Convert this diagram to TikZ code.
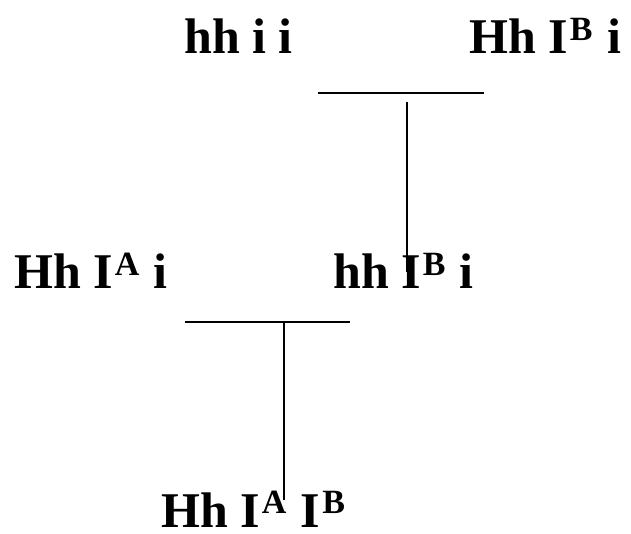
\documentclass[tikz,border=0pt]{standalone}
\usepackage{fontspec}
\setmainfont{Liberation Serif}
\newcommand{\allele}[1]{\kern2pt\raisebox{0.27em}{\fontsize{34}{34}\selectfont #1}\kern2pt\relax}

\begin{document}
\begin{tikzpicture}[x=1pt,y=-1pt,
  geno/.style={inner sep=0pt, anchor=base west, font=\fontsize{50}{50}\selectfont\bfseries},
  bar/.style={line width=2pt}]
\useasboundingbox (0,0) rectangle (631,534);

% --- Parents
\node[geno] (mother) at (184,54) {hh i i};
\node[geno] (father) at (469,54) {Hh I\allele{B} i};

% --- First cross
\coordinate (cross1w) at (318,93);
\coordinate (cross1e) at (484,93);
\coordinate (drop1top) at (407,102);
\coordinate (drop1end) at (407,272);
\draw[bar] (cross1w) -- (cross1e);
\draw[bar] (drop1top) -- (drop1end);

% --- Second generation
\node[geno] (mate) at (14,289) {Hh I\allele{A} i};
\node[geno] (child) at (333,289) {hh I\allele{B} i};

% --- Second cross
\coordinate (cross2w) at (185,322);
\coordinate (cross2e) at (350,322);
\coordinate (drop2top) at (284,322);
\coordinate (drop2end) at (284,500);
\draw[bar] (cross2w) -- (cross2e);
\draw[bar] (drop2top) -- (drop2end);

% --- Offspring
\node[geno] (offspring) at (161,527) {Hh I\allele{A} I\allele{B}};

\end{tikzpicture}
\end{document}
